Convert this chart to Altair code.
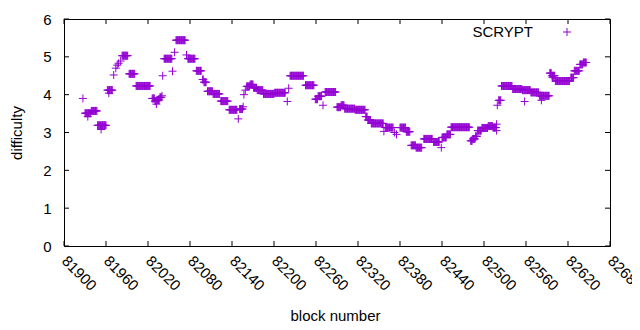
import altair as alt
import pandas as pd

# runs of (start block, end block, difficulty)
run_start = [81927, 81930, 81934, 81939, 81948, 81953, 81962, 81964, 81971, 81974, 81976, 81978, 81981,
             81983, 81993, 82003, 82026, 82030, 82032, 82033, 82037, 82040, 82041, 82043, 82055, 82058,
             82060, 82075, 82077, 82089, 82098, 82100, 82105, 82113, 82124, 82136, 82149, 82151, 82156,
             82157, 82159, 82161, 82166, 82171, 82176, 82185, 82201, 82219, 82221, 82223, 82245, 82259,
             82263, 82270, 82273, 82290, 82296, 82301, 82316, 82331, 82334, 82339, 82357, 82359, 82372,
             82375, 82380, 82389, 82396, 82403, 82414, 82428, 82439, 82440, 82447, 82453, 82481, 82484,
             82488, 82491, 82497, 82506, 82513, 82518, 82518, 82519, 82521, 82525, 82541, 82555, 82558,
             82567, 82579, 82582, 82594, 82597, 82598, 82602, 82624, 82629, 82637, 82642]
run_end = [81927, 81938, 81934, 81947, 81960, 81953, 81969, 81964, 81971, 81974, 81976, 81978, 81981,
           81991, 82001, 82023, 82029, 82031, 82032, 82036, 82039, 82040, 82041, 82054, 82055, 82058,
           82073, 82075, 82087, 82096, 82099, 82103, 82112, 82122, 82134, 82147, 82149, 82155, 82156,
           82157, 82159, 82165, 82170, 82175, 82184, 82200, 82216, 82219, 82221, 82242, 82257, 82262,
           82268, 82270, 82288, 82295, 82300, 82315, 82330, 82333, 82338, 82356, 82357, 82370, 82372,
           82375, 82388, 82394, 82402, 82411, 82426, 82436, 82439, 82446, 82452, 82479, 82483, 82487,
           82490, 82496, 82505, 82512, 82517, 82518, 82518, 82519, 82524, 82540, 82554, 82566, 82558,
           82578, 82593, 82582, 82596, 82601, 82598, 82622, 82628, 82636, 82641, 82646]
run_value = [3.90, 3.51, 3.42, 3.57, 3.19, 3.08, 4.12, 4.04, 4.52, 4.70, 4.78, 4.83, 4.89,
             5.03, 4.55, 4.23, 3.90, 3.83, 3.75, 3.86, 3.93, 3.97, 4.50, 4.95, 4.62, 5.12,
             5.44, 5.05, 4.95, 4.63, 4.40, 4.33, 4.09, 4.02, 3.83, 3.60, 3.36, 3.62, 3.68,
             4.00, 4.12, 4.22, 4.27, 4.18, 4.12, 4.02, 4.05, 3.82, 4.17, 4.50, 4.25, 3.88,
             3.96, 3.72, 4.07, 3.67, 3.72, 3.63, 3.60, 3.42, 3.33, 3.24, 3.03, 3.13, 3.00,
             2.95, 3.13, 3.02, 2.66, 2.60, 2.83, 2.75, 2.60, 2.87, 2.95, 3.14, 2.78, 2.83,
             2.90, 3.05, 3.12, 3.17, 3.13, 3.22, 3.05, 3.72, 3.85, 4.23, 4.15, 4.12, 3.82,
             4.06, 3.97, 3.85, 4.57, 4.50, 4.45, 4.36, 4.45, 4.63, 4.80, 4.85]

x_ticks = list(range(81900, 82681, 60))
y_ticks = [0, 1, 2, 3, 4, 5, 6]
series_name = "SCRYPT"

rows = []
for s, e, v in zip(run_start, run_end, run_value):
    for b in range(s, e + 1):
        rows.append({"block": b, "difficulty": v})
df = pd.DataFrame(rows)

W, H = 546, 227
color = "#9400D3"
plus = "M-1,0L1,0M0,-1L0,1"
font = "Liberation Sans"
fs = 15

xs = alt.Scale(domain=[81900, 82680], nice=False, zero=False)
ys = alt.Scale(domain=[0, 6], nice=False)

x_axis = alt.Axis(
    values=x_ticks, format="d", labelAngle=45, labelAlign="left", labelBaseline="middle",
    labelPadding=12, ticks=False, domain=False, grid=False, labelFlush=False, labelOverlap=False,
    title="block number", titleX=271, titleY=74, titleBaseline="alphabetic", titleAlign="center",
    labelFontSize=fs, titleFontSize=fs, labelColor="black", titleColor="black",
    titleFontWeight="normal")
y_axis = alt.Axis(
    values=y_ticks, format="d", labelPadding=13, ticks=False, domain=False, grid=False,
    labelFontSize=fs, titleFontSize=fs, labelColor="black", titleColor="black",
    labelFlush=False, title="difficulty", titleX=-47.5, titleY=113.5, titleAngle=270,
    titleBaseline="middle", titleAlign="center", titleFontWeight="normal")

points = alt.Chart(df).mark_point(
    shape=plus, size=64, filled=False, strokeWidth=1, opacity=1, color=color
).encode(
    x=alt.X("block:Q", scale=xs, axis=x_axis),
    y=alt.Y("difficulty:Q", scale=ys, axis=y_axis),
)

xt = pd.DataFrame({"block": x_ticks})
yt = pd.DataFrame({"difficulty": y_ticks})
tick_len = 5
bottom_ticks = alt.Chart(xt).mark_rule(color="black", strokeWidth=1).encode(
    x=alt.X("block:Q", scale=xs, axis=x_axis), y=alt.value(H), y2=alt.value(H - tick_len))
top_ticks = alt.Chart(xt).mark_rule(color="black", strokeWidth=1).encode(
    x=alt.X("block:Q", scale=xs, axis=x_axis), y=alt.value(0), y2=alt.value(tick_len))
left_ticks = alt.Chart(yt).mark_rule(color="black", strokeWidth=1).encode(
    y=alt.Y("difficulty:Q", scale=ys, axis=y_axis), x=alt.value(0), x2=alt.value(tick_len))
right_ticks = alt.Chart(yt).mark_rule(color="black", strokeWidth=1).encode(
    y=alt.Y("difficulty:Q", scale=ys, axis=y_axis), x=alt.value(W), x2=alt.value(W - tick_len))

leg = pd.DataFrame({"label": [series_name]})
leg_text = alt.Chart(leg).mark_text(
    align="right", baseline="middle", font=font, fontSize=fs, color="black"
).encode(text="label:N", x=alt.value(469), y=alt.value(13))
leg_point = alt.Chart(leg).mark_point(
    shape=plus, size=64, filled=False, strokeWidth=1, opacity=1, color=color
).encode(x=alt.value(503), y=alt.value(13))

chart = alt.layer(points, bottom_ticks, top_ticks, left_ticks, right_ticks, leg_text, leg_point).properties(
    width=W, height=H,
    autosize=alt.AutoSizeParams(type="none"),
    padding={"left": 56, "top": 11, "right": 22, "bottom": 76},
).configure_view(stroke="black", strokeWidth=1).configure_axis(
    labelFont=font, titleFont=font
)

chart.save("out.html", embed_options={"renderer": "svg", "actions": False})
